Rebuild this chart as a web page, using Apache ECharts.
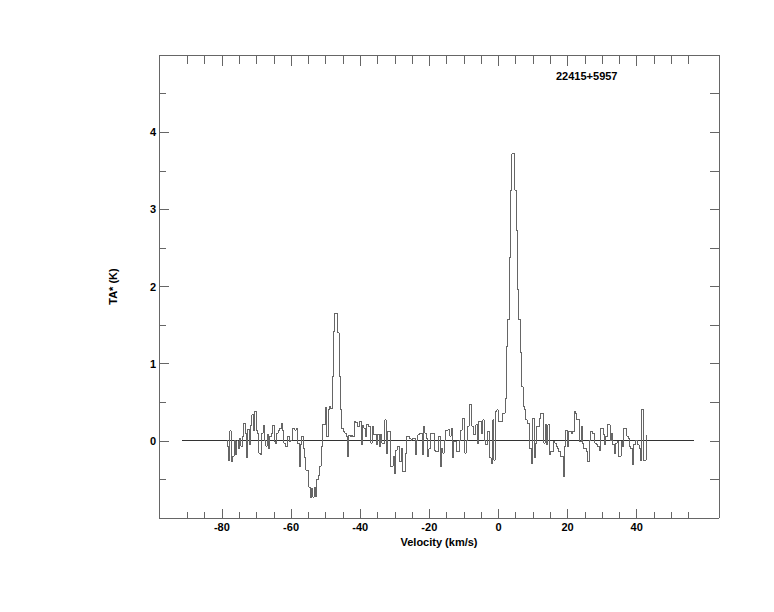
<!DOCTYPE html>
<html>
<head>
<meta charset="utf-8">
<script src="https://cdn.jsdelivr.net/npm/echarts@6/dist/echarts.min.js"></script>
<style>
html,body{margin:0;padding:0;background:#fff;}
#chart{width:774px;height:612px;}
#chart svg path{shape-rendering:crispEdges;}
</style>
</head>
<body>
<div id="chart"></div>
<script>
// ---- data ----
const sourceName = '22415+5957';
const xTitle = 'Velocity (km/s)';
const yTitle = 'TA* (K)';
const channelStart = -78.3;   // km/s, first channel centre
const channelWidth = 0.4;     // km/s
const antennaTemp = [
  0.01, -0.25, 0.13, -0.27, -0.2, 0.0, -0.18, 0.0, -0.1, 0.03,
  -0.07, 0.06, 0.23, 0.1, -0.22, 0.15, -0.05, 0.2, 0.34, 0.14,
  0.38, 0.14, 0.1, -0.16, -0.18, 0.1, 0.2, 0.01, -0.07, 0.08,
  -0.1, 0.06, 0.1, 0.2, -0.01, -0.03, 0.1, 0.14, 0.16, 0.23,
  0.14, -0.03, -0.07, -0.07, 0.06, -0.01, 0.01, 0.16, 0.16, 0.14,
  0.16, -0.03, -0.33, -0.05, 0.06, -0.1, -0.22, -0.38, -0.38,
  -0.6, -0.74, -0.62, -0.73, -0.6, -0.72, -0.5, -0.45, -0.33, -0.07,
  0.21, 0.21, 0.43, 0.05, 0.4, 0.45, 0.42, 0.83, 1.42, 1.65,
  1.65, 1.4, 0.83, 0.4, 0.16, 0.12, 0.1, 0.06, -0.2, 0.07,
  0.05, 0.07, 0.05, 0.25, 0.24, 0.19, 0.19, 0.25, -0.05, 0.2,
  0.16, 0.06, 0.21, 0.19, 0.19,
  -0.03, 0.19, 0.08, 0.08, -0.05, 0.08, -0.07, 0.08, -0.03, -0.03,
  0.27, -0.16, 0.12, 0.12, -0.33, -0.33, -0.2, -0.42, -0.12, -0.07,
  -0.07, -0.27, -0.1, -0.4, -0.4, -0.16, 0.06, 0.06, 0.03, 0.01,
  0.03, 0.03, -0.18, 0.01, 0.08, 0.1, 0.1, -0.18, 0.19, 0.1,
  0.03, -0.2, -0.1, 0.1, 0.1, 0.1, -0.12, -0.14, -0.14, 0.06,
  -0.33, -0.1, -0.16, 0.01, 0.14, 0.14, 0.15, 0.06, 0.16, -0.22,
  -0.01, -0.01, -0.14, -0.14, 0.01, 0.14, 0.29, 0.29, -0.16, 0.01,
  0.19, 0.47, 0.47, 0.19, 0.08, 0.08, 0.21, -0.03, 0.25, 0.25,
  0.1, 0.27, 0.01, -0.05, 0.12, 0.12, -0.22, -0.29, 0.27, -0.25,
  0.38, 0.4, 0.25, 0.25, 0.25, 0.36,
  0.36, 0.55, 1.22, 1.57, 2.37, 3.25, 3.72, 3.72, 3.25, 2.73,
  1.96, 1.57, 1.14, 0.7, 0.45, 0.4, 0.27, 0.23, 0.23,
  -0.1, -0.29, 0.29, -0.22, -0.03, 0.19, 0.19, 0.29, 0.36, 0.36,
  -0.03, 0.21, -0.05, 0.21, -0.18, -0.14, -0.14, -0.01, -0.03, -0.07,
  -0.1, -0.14, -0.2, -0.2, -0.46, -0.07, 0.14, -0.07, 0.12, 0.12,
  0.1, 0.12, 0.38, 0.36, 0.27, 0.27, -0.01, 0.19, -0.03, -0.1,
  -0.1, -0.14, -0.27, 0.01, 0.12, 0.1, 0.1, -0.03, -0.05, -0.07,
  -0.12, 0.16, 0.16, 0.08, -0.05, 0.06, 0.21, 0.21, 0.01, 0.1,
  -0.05, -0.16, -0.03, -0.01, -0.2, -0.2, -0.01, -0.07, 0.16, 0.16,
  0.06, 0.03, -0.07, -0.1, -0.31, -0.05, 0.01, 0.01, -0.05, -0.1,
  -0.25, 0.41, -0.25, -0.25, 0.07, 0.07
];
const baselineRange = [-91.5, 56.5];   // zero-level line extent (km/s)
const xRange = [-98.2, 63.8];
const yRange = [-1, 5];
const xMajorTicks = [-80, -60, -40, -20, 0, 20, 40];
const xMinorTicks = [-90, -85, -75, -70, -65, -55, -50, -45, -35, -30, -25, -15, -10, -5, 5, 10, 15, 25, 30, 35, 45, 50, 55];
const yMajorTicks = [0, 1, 2, 3, 4];
const yMinorTicks = [-0.5, 0.5, 1.5, 2.5, 3.5, 4.5];

// ---- chart ----
const spectrum = antennaTemp.map((t, i) => [channelStart + i * channelWidth, t]);
const baseline = baselineRange.map(v => [v, 0]);

const FONT = '"Liberation Sans", Arial, Helvetica, sans-serif';
const FRAME = '#666';
const lbl = {fontFamily: FONT, fontWeight: 'bold', fontSize: 11, color: '#000'};

function xAx(pos, ticks, len, withLabels, showLine) {
  return {
    type: 'value', position: pos, min: xRange[0], max: xRange[1],
    axisLine: {show: showLine, onZero: false, lineStyle: {color: FRAME, width: 1}},
    axisTick: {show: true, inside: true, length: len, customValues: ticks, lineStyle: {color: FRAME, width: 1}},
    axisLabel: withLabels ? Object.assign({show: true, customValues: ticks, margin: 3}, lbl) : {show: false},
    splitLine: {show: false}
  };
}
function yAx(pos, ticks, len, withLabels, showLine) {
  return {
    type: 'value', position: pos, min: yRange[0], max: yRange[1],
    axisLine: {show: showLine, onZero: false, lineStyle: {color: FRAME, width: 1}},
    axisTick: {show: true, inside: true, length: len, customValues: ticks, lineStyle: {color: FRAME, width: 1}},
    axisLabel: withLabels ? Object.assign({show: true, customValues: ticks, margin: 3}, lbl) : {show: false},
    splitLine: {show: false}
  };
}

const xAxes = [
  xAx('bottom', xMajorTicks, 9, true, true),
  xAx('bottom', xMinorTicks, 6, false, false),
  xAx('top', xMajorTicks, 11, false, true),
  xAx('top', xMinorTicks, 9, false, false)
];
Object.assign(xAxes[0], {name: xTitle, nameLocation: 'middle', nameGap: 10, nameTextStyle: Object.assign({}, lbl)});
const yAxes = [
  yAx('left', yMajorTicks, 10, true, true),
  yAx('left', yMinorTicks, 7, false, false),
  yAx('right', yMajorTicks, 9, false, true),
  yAx('right', yMinorTicks, 9, false, false)
];
Object.assign(yAxes[0], {name: yTitle, nameLocation: 'middle', nameGap: 41, nameRotate: 90, nameTextStyle: Object.assign({}, lbl)});

const chart = echarts.init(document.getElementById('chart'), null, {renderer: 'svg'});
chart.setOption({
  animation: false,
  backgroundColor: '#fff',
  title: {text: sourceName, left: 556, top: 70, padding: 0,
          textStyle: Object.assign({}, lbl)},
  grid: {left: 159, top: 55, width: 560, height: 463, containLabel: false},
  xAxis: xAxes,
  yAxis: yAxes,
  series: [
    {type: 'line', data: baseline, xAxisIndex: 0, yAxisIndex: 0, showSymbol: false, silent: true,
     lineStyle: {color: '#333', width: 1}},
    {type: 'line', data: spectrum, step: 'middle', xAxisIndex: 0, yAxisIndex: 0, showSymbol: false, silent: true,
     lineStyle: {color: '#666', width: 1}}
  ]
});
</script>
</body>
</html>
